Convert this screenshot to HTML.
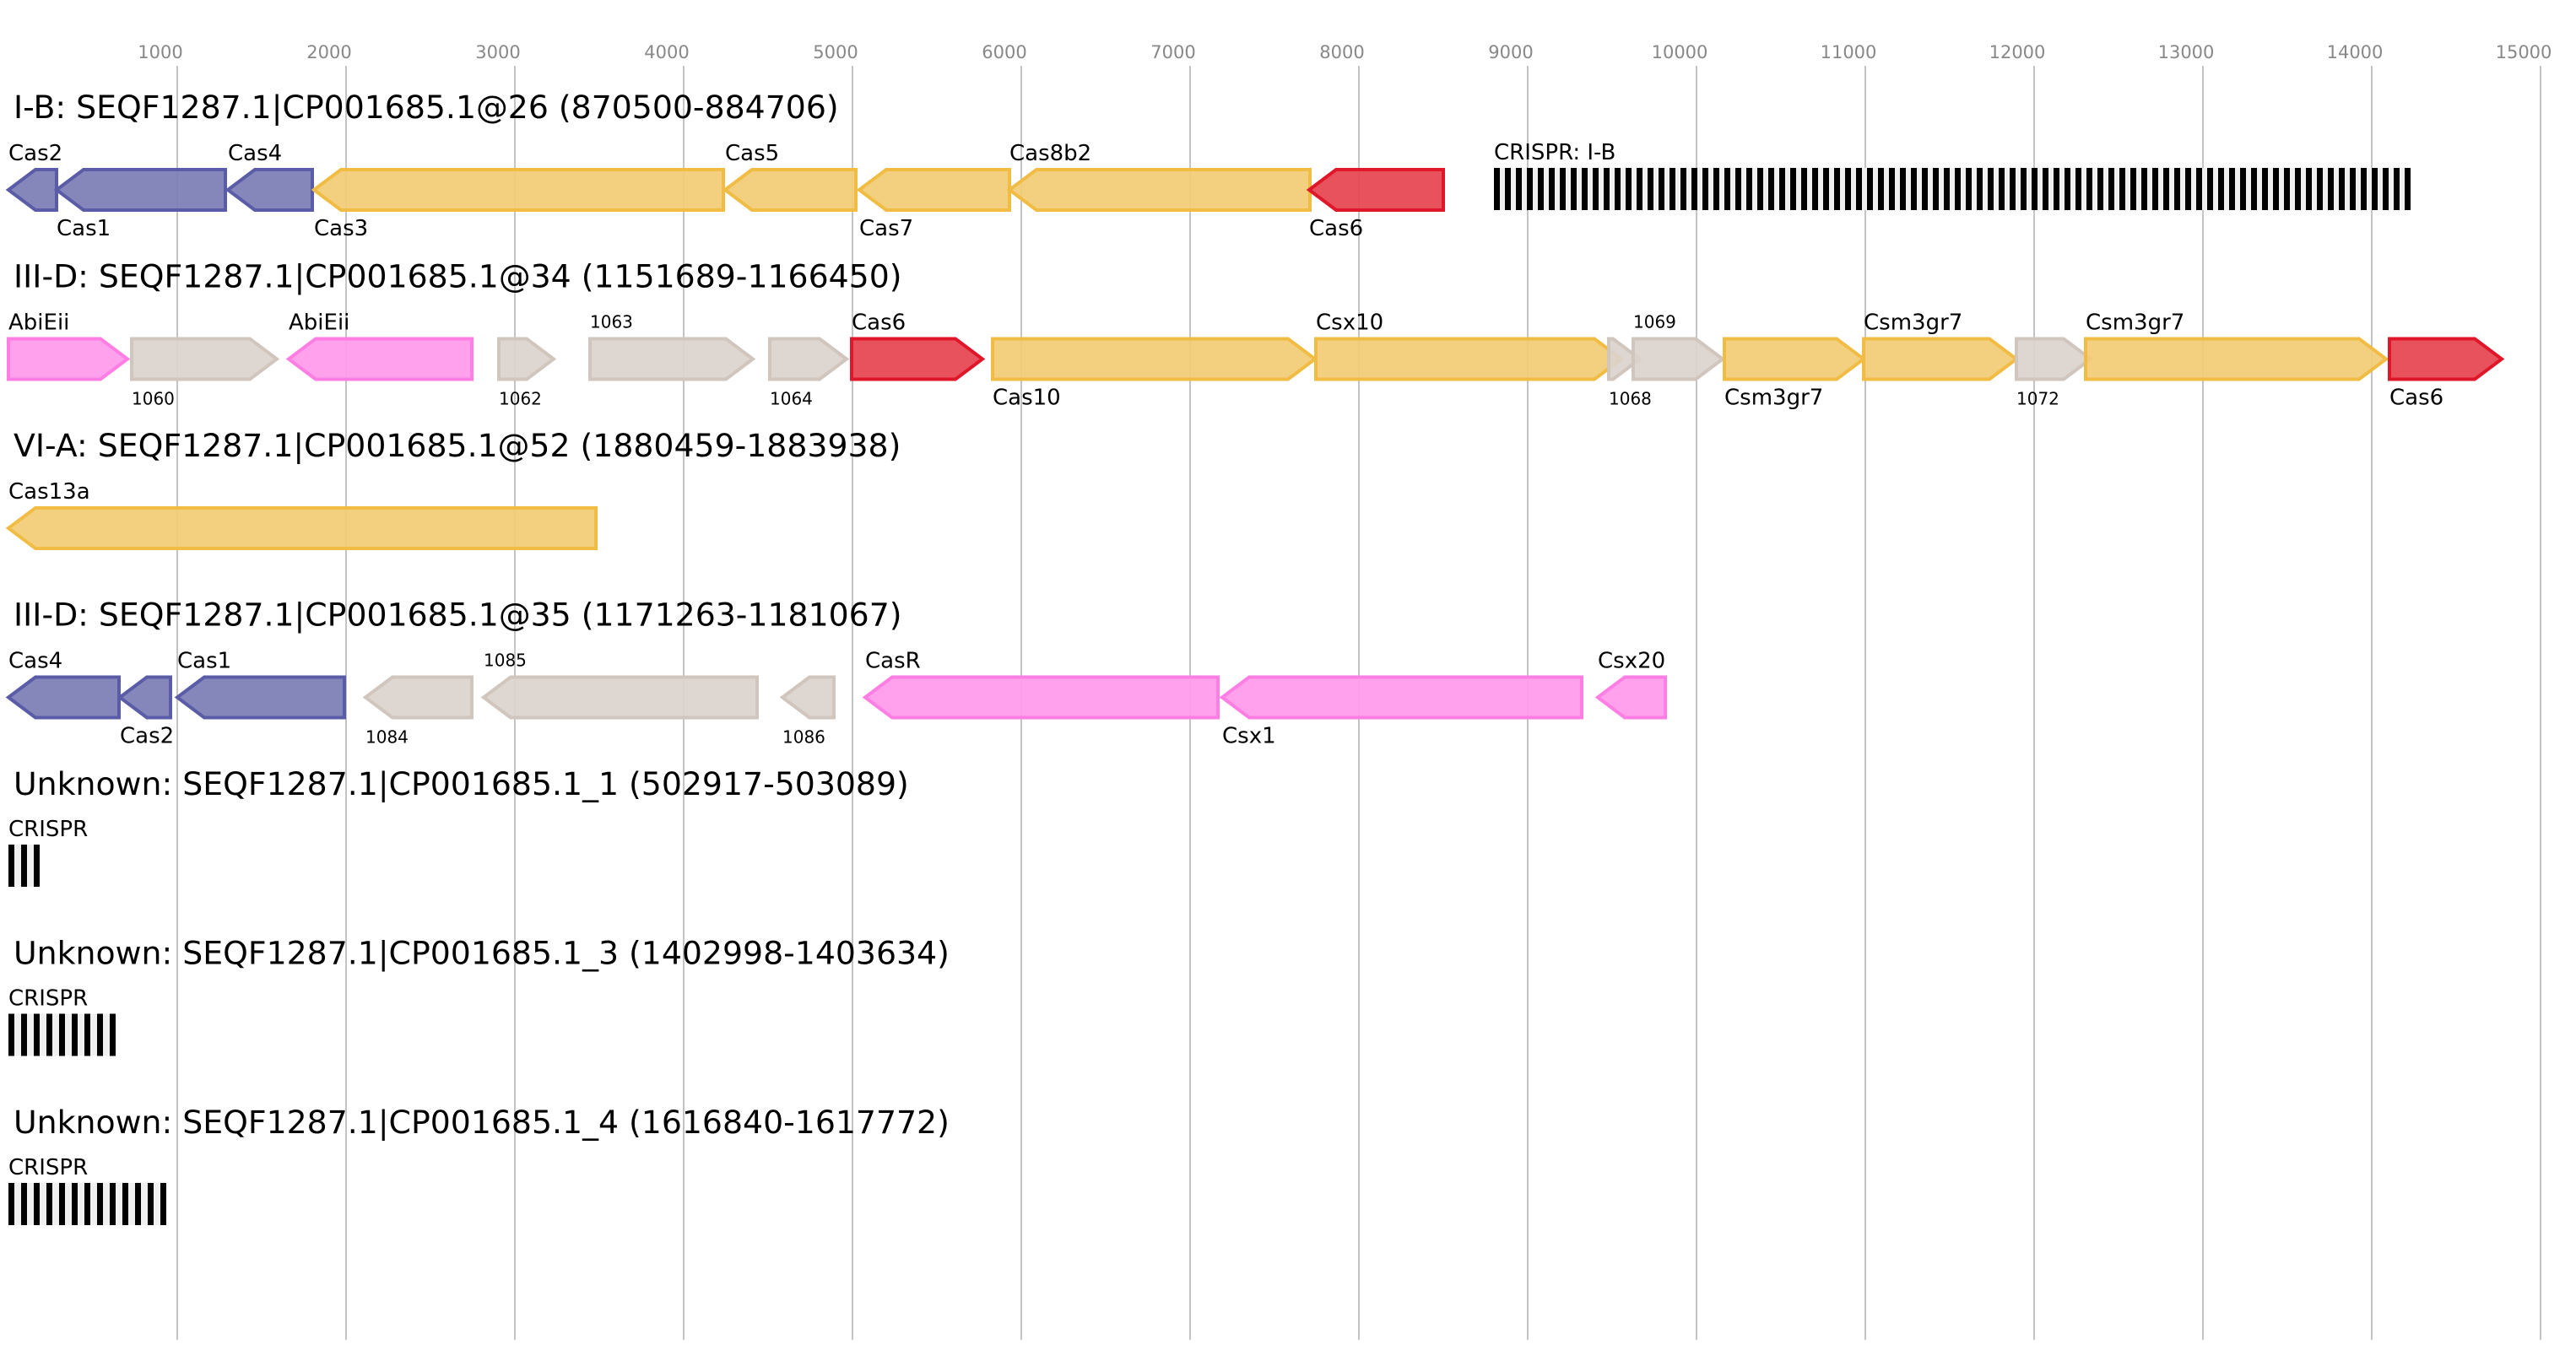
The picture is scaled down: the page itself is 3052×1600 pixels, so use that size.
<!DOCTYPE html>
<html><head><meta charset="utf-8"><style>
html,body{margin:0;padding:0;background:#fff;}
svg{display:block;font-family:"DejaVu Sans","Liberation Sans",sans-serif;}
</style></head><body>
<svg id="chart" width="3052" height="1600" viewBox="0 0 3052 1600" xmlns="http://www.w3.org/2000/svg"></svg>
<script>
const tickValues = [1000,2000,3000,4000,5000,6000,7000,8000,9000,10000,11000,12000,13000,14000,15000];
const rowTitles = [
 "I-B: SEQF1287.1|CP001685.1@26 (870500-884706)",
 "III-D: SEQF1287.1|CP001685.1@34 (1151689-1166450)",
 "VI-A: SEQF1287.1|CP001685.1@52 (1880459-1883938)",
 "III-D: SEQF1287.1|CP001685.1@35 (1171263-1181067)",
 "Unknown: SEQF1287.1|CP001685.1_1 (502917-503089)",
 "Unknown: SEQF1287.1|CP001685.1_3 (1402998-1403634)",
 "Unknown: SEQF1287.1|CP001685.1_4 (1616840-1617772)"
];
// [row, start bp, end bp, strand, type, label, label position, small label]
const genes = [
 [0,0,285,-1,"purple","Cas2","a",0],
 [0,285,1285,-1,"purple","Cas1","b",0],
 [0,1300,1800,-1,"purple","Cas4","a",0],
 [0,1810,4235,-1,"yellow","Cas3","b",0],
 [0,4245,5020,-1,"yellow","Cas5","a",0],
 [0,5040,5930,-1,"yellow","Cas7","b",0],
 [0,5930,7710,-1,"yellow","Cas8b2","a",0],
 [0,7705,8500,-1,"red","Cas6","b",0],
 [1,0,705,1,"pink","AbiEii","a",0],
 [1,730,1590,1,"gray","1060","b",1],
 [1,1660,2745,-1,"pink","AbiEii","a",0],
 [1,2905,3230,1,"gray","1062","b",1],
 [1,3445,4410,1,"gray","1063","a",1],
 [1,4510,4965,1,"gray","1064","b",1],
 [1,4995,5770,1,"red","Cas6","a",0],
 [1,5830,7740,1,"yellow","Cas10","b",0],
 [1,7745,9555,1,"yellow","Csx10","a",0],
 [1,9480,9665,1,"gray","1068","b",1],
 [1,9625,10155,1,"gray","1069","a",1],
 [1,10165,10990,1,"yellow","Csm3gr7","b",0],
 [1,10990,11895,1,"yellow","Csm3gr7","a",0],
 [1,11895,12335,1,"gray","1072","b",1],
 [1,12305,14085,1,"yellow","Csm3gr7","a",0],
 [1,14105,14770,1,"red","Cas6","b",0],
 [2,0,3480,-1,"yellow","Cas13a","a",0],
 [3,0,655,-1,"purple","Cas4","a",0],
 [3,660,960,-1,"purple","Cas2","b",0],
 [3,1000,1990,-1,"purple","Cas1","a",0],
 [3,2115,2745,-1,"gray","1084","b",1],
 [3,2815,4435,-1,"gray","1085","a",1],
 [3,4585,4890,-1,"gray","1086","b",1],
 [3,5075,7165,-1,"pink","CasR","a",0],
 [3,7190,9320,-1,"pink","Csx1","b",0],
 [3,9415,9815,-1,"pink","Csx20","a",0]
];
// [row, start bp, repeat count, repeat spacing bp, label]
const crisprs = [
 [0,8800,84,65,"CRISPR: I-B"],
 [4,0,3,75,"CRISPR"],
 [5,0,9,75,"CRISPR"],
 [6,0,13,75,"CRISPR"]
];
const colors = {purple:["#7b7db5","#5a5ca8"],yellow:["#f2cc74","#f0bc44"],red:["#e5434f","#e0172a"],pink:["#ff99ea","#ff7ee3"],gray:["#dbd3cd","#d0c6bd"]};
const NS="http://www.w3.org/2000/svg";
const svg=document.getElementById('chart');
function xs(bp){return 10+bp*0.2;}
function rowTop(r){return 200+r*200.5;}
function mk(tag,attrs,parent){const e=document.createElementNS(NS,tag);for(const k in attrs)e.setAttribute(k,attrs[k]);(parent||svg).appendChild(e);return e;}

const grid=mk('g',{});


tickValues.forEach(v=>{
 const l=mk('line',{x1:xs(v),x2:xs(v),y1:78,y2:1588,stroke:"#c4c4c4","stroke-width":2},grid);
 
 
 const t=mk('text',{x:xs(v)-20,y:69,"font-size":21,fill:"#888","text-anchor":"middle"},grid);
 
 
 t.textContent=v;
});
rowTitles.forEach((s,i)=>{
 const t=mk('text',{x:16,y:rowTop(i)-60,"font-size":37.8,fill:"#000"});
 
 
 t.textContent=s;
});
genes.forEach((g,i)=>{
 const [r,s,e,st,type,lab,pos,small]=g;
 const x0=xs(s),x1=xs(e),y=rowTop(r)+1,h=48,ym=y+h/2;
 const hd=Math.min(32,x1-x0);
 let pts;
 if(st>0) pts=[[x0,y],[x1-hd,y],[x1,ym],[x1-hd,y+h],[x0,y+h]];
 else pts=[[x1,y],[x0+hd,y],[x0,ym],[x0+hd,y+h],[x1,y+h]];
 const p=mk('polygon',{points:pts.map(q=>q.join(',')).join(' '),fill:colors[type][0],"fill-opacity":0.92,stroke:colors[type][1],"stroke-width":4,"stroke-linejoin":"miter"});
 
 
 const ty = pos==="a" ? (small? rowTop(r)-12 : rowTop(r)-10) : rowTop(r)+79;
 const t=mk('text',{x:x0,y:ty,"font-size":small?20:26,fill:"#000"});
 
 
 t.textContent=lab;
});
crisprs.forEach((c,i)=>{
 const [r,s,n,sp,lab]=c;
 const y=rowTop(r)-1;
 const g=mk('g',{});
 
 
 const xe=xs(s+sp*(n-1))+7;
 mk('rect',{x:xs(s),y:y,width:xe-xs(s),height:50,fill:"#f0f0f0"},g);
 for(let k=0;k<n;k++){
  const b=mk('rect',{x:xs(s+sp*k),y:y,width:7,height:50,fill:"#000"},g);
  
  
 }
 const t=mk('text',{x:xs(s),y:y-10,"font-size":26,fill:"#000"});
 
 
 t.textContent=lab;
});
</script>
</body></html>
